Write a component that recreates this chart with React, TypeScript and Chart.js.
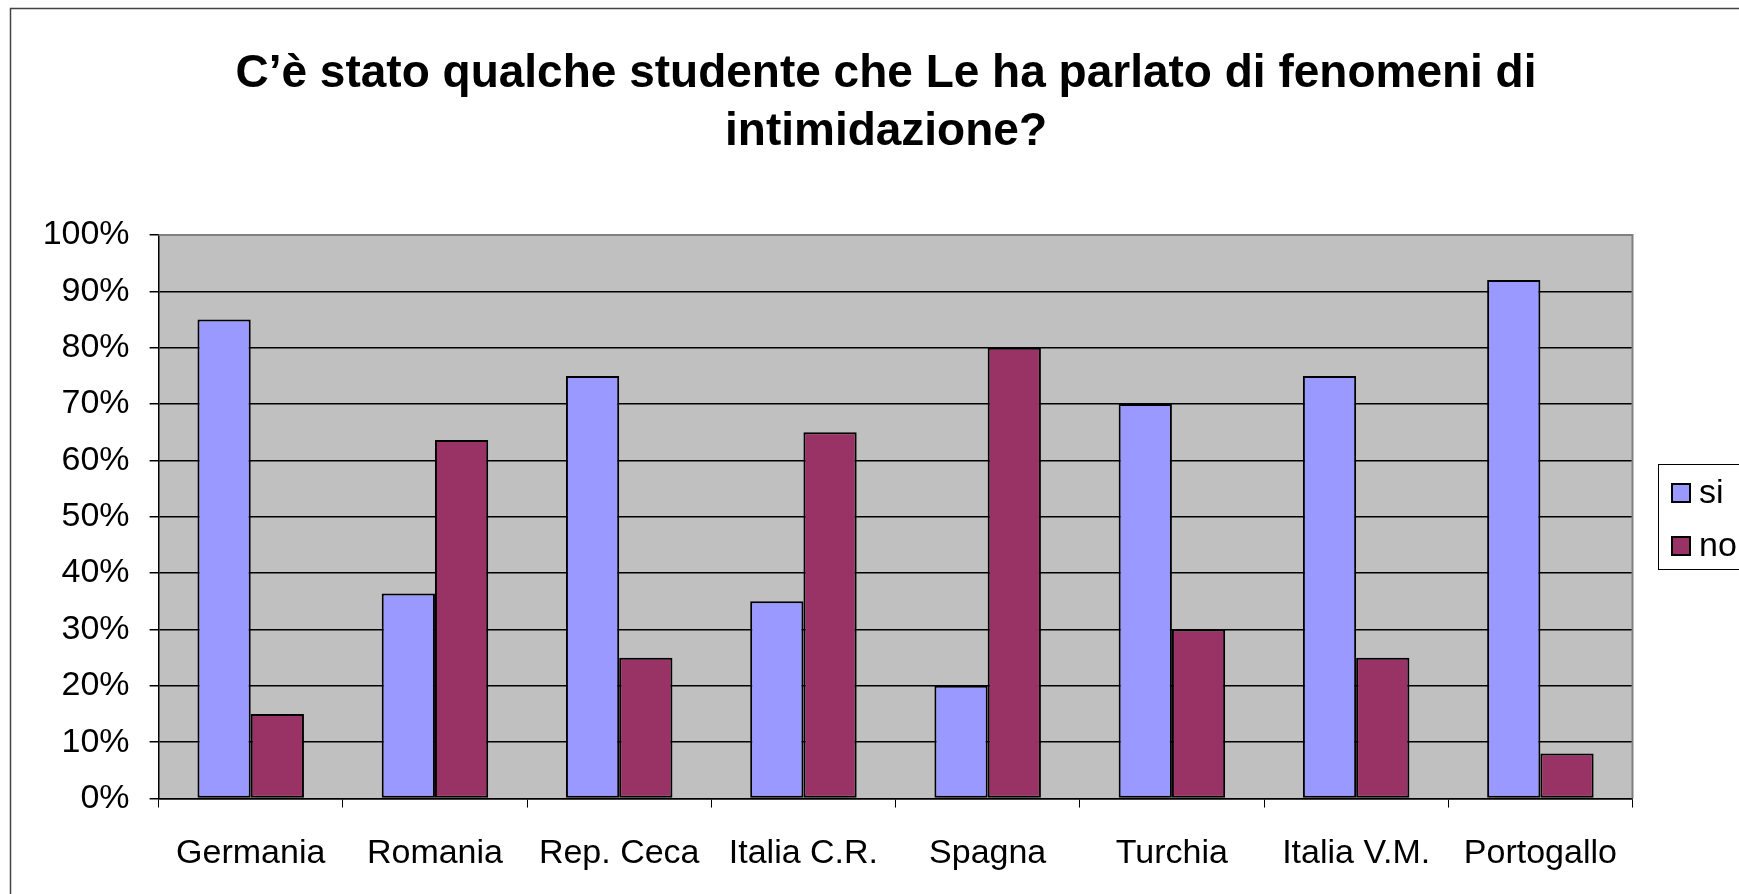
import React, { useEffect, useRef } from "react";
import { Chart, registerables } from "chart.js";

Chart.register(...registerables);

const categories = ["Germania", "Romania", "Rep. Ceca", "Italia C.R.", "Spagna", "Turchia", "Italia V.M.", "Portogallo"];
const siValues = [85, 36.4, 75, 35, 20, 70, 75, 92];
const noValues = [15, 63.6, 25, 65, 80, 30, 25, 8];
const seriesNames = ["si", "no"];
const seriesColors = ["#9999FF", "#993366"];
const titleLines = ["C\u2019è stato qualche studente che Le ha parlato di fenomeni di", "intimidazione?"];

const FONT = "'Liberation Sans', Arial, sans-serif";
const W = 1739;
const H = 894;

export default function App() {
  const ref = useRef<HTMLCanvasElement | null>(null);

  useEffect(() => {
    const canvas = ref.current;
    if (!canvas) return;

    const decor = {
      id: "decor",
      beforeDraw(chart: any) {
        const ctx = chart.ctx;
        const a = chart.chartArea;
        ctx.save();
        ctx.fillStyle = "#ffffff";
        ctx.fillRect(0, 0, W, H);
        // outer frame
        ctx.strokeStyle = "#444";
        ctx.lineWidth = 1.5;
        ctx.beginPath();
        ctx.moveTo(10.5, H + 5);
        ctx.lineTo(10.5, 8.5);
        ctx.lineTo(W + 5, 8.5);
        ctx.stroke();
        // plot area
        ctx.fillStyle = "#C0C0C0";
        ctx.fillRect(a.left, a.top, a.right - a.left, a.bottom - a.top);
        ctx.restore();
      },
      afterDraw(chart: any) {
        const ctx = chart.ctx;
        const a = chart.chartArea;
        ctx.save();
        // plot border (top & right) in gray
        ctx.strokeStyle = "#808080";
        ctx.lineWidth = 2;
        ctx.beginPath();
        ctx.moveTo(a.left, a.top);
        ctx.lineTo(a.right, a.top);
        ctx.lineTo(a.right, a.bottom);
        ctx.stroke();

        // title
        ctx.fillStyle = "#000";
        ctx.font = `bold 46px ${FONT}`;
        ctx.textAlign = "center";
        ctx.textBaseline = "alphabetic";
        ctx.fillText(titleLines[0], 886, 87);
        ctx.fillText(titleLines[1], 886, 145);

        // legend
        const lx = 1658, ly = 464, lh = 105;
        ctx.strokeStyle = "#000";
        ctx.lineWidth = 1;
        ctx.strokeRect(lx + 0.5, ly + 0.5, 200, lh);
        const items = chart.data.datasets;
        items.forEach((ds: any, i: number) => {
          const cy = ly + 29 + i * 53;
          ctx.fillStyle = ds.backgroundColor;
          ctx.fillRect(1672, cy - 9, 18, 18);
          ctx.strokeStyle = "#000";
          ctx.lineWidth = 2;
          ctx.strokeRect(1672, cy - 9, 18, 18);
          ctx.fillStyle = "#000";
          ctx.font = `34px ${FONT}`;
          ctx.textAlign = "left";
          ctx.textBaseline = "middle";
          ctx.fillText(ds.label, 1699, cy + 1);
        });
        ctx.restore();
      },
    };

    const chart = new Chart(canvas, {
      type: "bar",
      data: {
        labels: categories,
        datasets: [
          {
            label: seriesNames[0],
            data: siValues,
            backgroundColor: seriesColors[0],
            borderColor: "#000",
            borderWidth: 2,
            borderSkipped: false,
            categoryPercentage: 0.578,
            barPercentage: 1,
          },
          {
            label: seriesNames[1],
            data: noValues,
            backgroundColor: seriesColors[1],
            borderColor: "#000",
            borderWidth: 2,
            borderSkipped: false,
            categoryPercentage: 0.578,
            barPercentage: 1,
          },
        ],
      },
      options: {
        responsive: false,
        animation: false,
        layout: { padding: { left: 0, top: 235, right: W - 1632.5, bottom: 0 } },
        plugins: {
          legend: { display: false },
          title: { display: false },
          tooltip: { enabled: false },
        },
        scales: {
          x: {
            grid: {
              display: true,
              drawOnChartArea: false,
              drawTicks: true,
              tickLength: 9,
              color: "#000",
              offset: true,
            },
            border: { display: true, color: "#000", width: 1.5 },
            ticks: {
              color: "#000",
              font: { family: FONT, size: 34 },
              padding: 26,
              maxRotation: 0,
              autoSkip: false,
            },
            afterFit: (s: any) => {
              s.height = H - 798.5;
            },
          },
          y: {
            min: 0,
            max: 100,
            grid: {
              color: "#000",
              drawTicks: true,
              tickLength: 9,
              lineWidth: 1.5,
            },
            border: { display: true, color: "#000", width: 1.5 },
            ticks: {
              stepSize: 10,
              color: "#000",
              font: { family: FONT, size: 34 },
              padding: 20,
              callback: (v: any) => `${v}%`,
            },
            afterFit: (s: any) => {
              s.width = 158.6;
            },
          },
        },
      },
      plugins: [decor],
    });

    return () => chart.destroy();
  }, []);

  return (
    <div style={{ position: "fixed", left: 0, top: 0, width: W, height: H, background: "#fff" }}>
      <canvas ref={ref} width={W} height={H} style={{ display: "block", width: W, height: H }} />
    </div>
  );
}
